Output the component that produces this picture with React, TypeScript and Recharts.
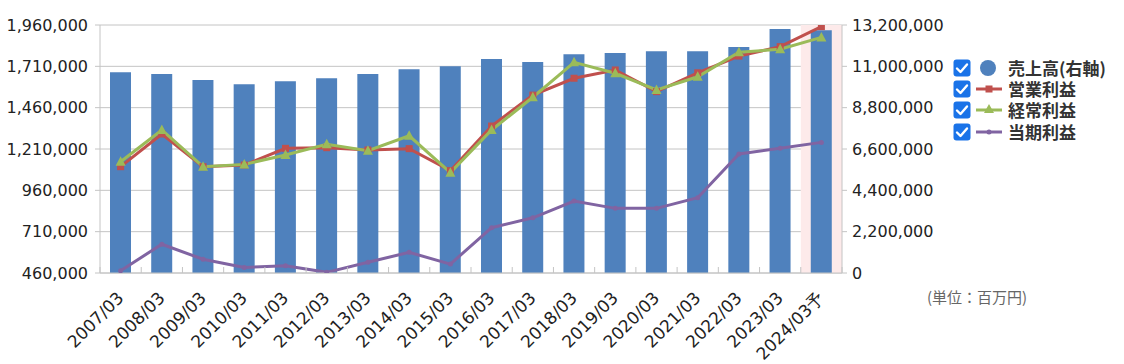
import React from "react";
import {
  ComposedChart,
  Bar,
  Line,
  XAxis,
  YAxis,
  CartesianGrid,
  ReferenceArea,
} from "recharts";

const categories = [
  "2007/03", "2008/03", "2009/03", "2010/03", "2011/03", "2012/03",
  "2013/03", "2014/03", "2015/03", "2016/03", "2017/03", "2018/03",
  "2019/03", "2020/03", "2021/03", "2022/03", "2023/03", "2024/03予",
];
const sales = [
  10680000, 10590000, 10270000, 10040000, 10200000, 10360000,
  10590000, 10840000, 11000000, 11390000, 11230000, 11640000,
  11710000, 11800000, 11800000, 12030000, 12990000, 12920000,
];
const operatingProfit = [
  1103000, 1301000, 1103000, 1113000, 1214000, 1218000,
  1204000, 1212000, 1079000, 1349000, 1536000, 1638000,
  1688000, 1557000, 1671000, 1772000, 1829000, 1950000,
];
const ordinaryProfit = [
  1133000, 1325000, 1103000, 1117000, 1174000, 1238000,
  1200000, 1290000, 1067000, 1325000, 1523000, 1734000,
  1668000, 1567000, 1647000, 1795000, 1813000, 1885000,
];
const netIncome = [
  474000, 634000, 543000, 494000, 504000, 464000,
  525000, 585000, 514000, 734000, 794000, 895000,
  851000, 851000, 915000, 1180000, 1214000, 1250000,
];
const leftTicks = [460000, 710000, 960000, 1210000, 1460000, 1710000, 1960000];
const rightTicks = [0, 2200000, 4400000, 6600000, 8800000, 11000000, 13200000];
const seriesNames = ["売上高(右軸)", "営業利益", "経常利益", "当期利益"];
const forecastCategory = "2024/03予";
const unitLabel = "(単位：百万円)";

const data = categories.map((c, i) => ({
  name: c,
  sales: sales[i],
  op: operatingProfit[i],
  ord: ordinaryProfit[i],
  net: netIncome[i],
}));

const BLUE = "#4f81bd";
const RED = "#c0504d";
const GREEN = "#9bbb59";
const PURPLE = "#8064a2";
const AXIS = "#c4c4c4";
const NUM_FONT = "'DejaVu Sans', sans-serif";
const JP_FONT = "'Noto Sans CJK JP', sans-serif";

const fmt = (v: number) => v.toLocaleString("en-US");

const XTick = (props: any) => {
  const { x, y, payload, width, visibleTicksCount, index } = props;
  const half =
    payload && typeof payload.offset === "number" && payload.offset > 0
      ? payload.offset
      : width / visibleTicksCount / 2;
  const isLast = index === visibleTicksCount - 1;
  const tx = x + 4;
  const ty = y + 26;
  return (
    <g>
      <line x1={x - half} x2={x - half} y1={y} y2={y - 6} stroke={AXIS} strokeWidth={1} />
      {isLast && (
        <line x1={x + half} x2={x + half} y1={y} y2={y - 6} stroke={AXIS} strokeWidth={1} />
      )}
      <text
        x={tx}
        y={ty}
        transform={`rotate(-45 ${tx} ${ty})`}
        textAnchor="end"
        fontSize={17}
        fontFamily={NUM_FONT}
        fill="#222"
      >
        {payload.value}
      </text>
    </g>
  );
};

const SquareDot = (props: any) => {
  const { cx, cy } = props;
  if (cx == null || cy == null) return null;
  return <rect x={cx - 3.5} y={cy - 3.5} width={7} height={7} fill={RED} />;
};
const TriangleDot = (props: any) => {
  const { cx, cy } = props;
  if (cx == null || cy == null) return null;
  return (
    <polygon
      points={`${cx},${cy - 5.5} ${cx - 5},${cy + 4} ${cx + 5},${cy + 4}`}
      fill={GREEN}
    />
  );
};
const SmallDot = (props: any) => {
  const { cx, cy } = props;
  if (cx == null || cy == null) return null;
  return <circle cx={cx} cy={cy} r={2.5} fill={PURPLE} />;
};

const CheckBox = () => (
  <svg width={18} height={18} style={{ display: "block" }}>
    <rect x={0.5} y={0.5} width={17} height={17} rx={3} fill="#1a73e8" />
    <polyline
      points="4,9.5 7.5,13 14,5.5"
      fill="none"
      stroke="#fff"
      strokeWidth={2.4}
      strokeLinecap="round"
      strokeLinejoin="round"
    />
  </svg>
);

const LegendIcon = ({ kind }: { kind: number }) => {
  if (kind === 0) {
    return (
      <svg width={26} height={18} style={{ display: "block" }}>
        <circle cx={12} cy={9} r={8} fill={BLUE} />
      </svg>
    );
  }
  const color = kind === 1 ? RED : kind === 2 ? GREEN : PURPLE;
  return (
    <svg width={26} height={18} style={{ display: "block" }}>
      <line x1={0} x2={26} y1={9} y2={9} stroke={color} strokeWidth={3} />
      {kind === 1 && <rect x={9.5} y={5.5} width={7} height={7} fill={color} />}
      {kind === 2 && <polygon points="13,3 8,12 18,12" fill={color} />}
      {kind === 3 && <circle cx={13} cy={9} r={2.5} fill={color} />}
    </svg>
  );
};

const LegendBox = () => (
  <div
    style={{
      position: "absolute",
      left: 953,
      top: 59,
      display: "flex",
      flexDirection: "column",
      gap: 3.2,
    }}
  >
    {seriesNames.map((n, i) => (
      <div key={n} style={{ display: "flex", alignItems: "center", height: 18 }}>
        <CheckBox />
        <div style={{ width: 5 }} />
        <LegendIcon kind={i} />
        <div style={{ width: 6 }} />
        <span
          style={{
            fontFamily: JP_FONT,
            fontWeight: 700,
            fontSize: 17,
            color: "#333",
            whiteSpace: "nowrap",
            lineHeight: "18px",
          }}
        >
          {n}
        </span>
      </div>
    ))}
  </div>
);

export default function App() {
  return (
    <div style={{ position: "absolute", left: 0, top: 0, width: 1124, height: 364, background: "#fff" }}>
      <ComposedChart
        width={1124}
        height={364}
        data={data}
        margin={{ top: 25, right: 172, bottom: 0, left: 0 }}
      >
        <CartesianGrid vertical={false} stroke={AXIS} yAxisId="left" />
        <XAxis
          dataKey="name"
          height={91}
          interval={0}
          axisLine={{ stroke: AXIS }}
          tickLine={false}
          tickSize={0}
          tickMargin={0}
          tick={<XTick />}
        />
        <YAxis
          yAxisId="left"
          orientation="left"
          width={100}
          domain={[460000, 1960000]}
          ticks={leftTicks}
          interval={0}
          tickFormatter={fmt}
          axisLine={{ stroke: AXIS }}
          tickLine={{ stroke: AXIS }}
          tickSize={5}
          tickMargin={7}
          tick={{ fontSize: 16, fontFamily: NUM_FONT, fill: "#222" }}
          allowDataOverflow
        />
        <YAxis
          yAxisId="right"
          orientation="right"
          width={110}
          domain={[0, 13200000]}
          ticks={rightTicks}
          interval={0}
          tickFormatter={fmt}
          axisLine={{ stroke: AXIS }}
          tickLine={{ stroke: AXIS }}
          tickSize={5}
          tickMargin={5}
          tick={{ fontSize: 16, fontFamily: NUM_FONT, fill: "#222" }}
          allowDataOverflow
        />
        <ReferenceArea
          yAxisId="left"
          x1={forecastCategory}
          x2={forecastCategory}
          fill="#fdeaea"
          fillOpacity={1}
          stroke="none"
        />
        <Bar
          yAxisId="right"
          dataKey="sales"
          name={seriesNames[0]}
          fill={BLUE}
          barSize={21}
          isAnimationActive={false}
        />
        <Line
          yAxisId="left"
          dataKey="op"
          name={seriesNames[1]}
          stroke={RED}
          strokeWidth={3}
          dot={<SquareDot />}
          activeDot={false}
          isAnimationActive={false}
        />
        <Line
          yAxisId="left"
          dataKey="ord"
          name={seriesNames[2]}
          stroke={GREEN}
          strokeWidth={3}
          dot={<TriangleDot />}
          activeDot={false}
          isAnimationActive={false}
        />
        <Line
          yAxisId="left"
          dataKey="net"
          name={seriesNames[3]}
          stroke={PURPLE}
          strokeWidth={3}
          dot={<SmallDot />}
          activeDot={false}
          isAnimationActive={false}
        />
      </ComposedChart>
      <LegendBox />
      <div
        style={{
          position: "absolute",
          left: 927,
          top: 286,
          fontFamily: JP_FONT,
          fontSize: 15,
          color: "#666",
          whiteSpace: "nowrap",
        }}
      >
        {unitLabel}
      </div>
    </div>
  );
}
